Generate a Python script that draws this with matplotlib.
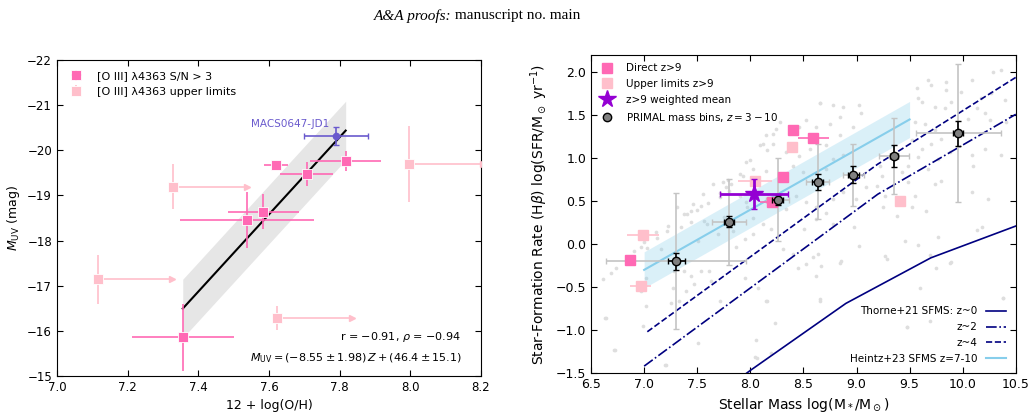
import matplotlib.pyplot as plt
import numpy as np

# ---------------- left panel: M_UV vs 12+log(O/H) ----------------
det_oh = [7.62, 7.707, 7.817, 7.584, 7.538, 7.356]
det_oh_err = [0.035, 0.075, 0.10, 0.10, 0.19, 0.145]
det_muv = [-19.68, -19.47, -19.77, -18.64, -18.45, -15.86]
det_muv_err = [0.0, 0.26, 0.22, 0.39, 0.62, 0.74]

lim_oh = [7.329, 7.115, 7.624, 7.995]
lim_muv = [-19.19, -17.14, -16.28, -19.69]
lim_muv_err = [0.5, 0.55, 0.27, 0.84]
lim_arrow = 0.21

jd1_oh, jd1_oh_err = 7.79, 0.09
jd1_muv, jd1_muv_err = -20.31, 0.2

fit_slope, fit_icpt = -8.55, 46.4
fit_band = 0.65

# ---------------- right panel: SFR vs stellar mass ----------------
dir_m = [8.398, 8.592, 8.31, 8.20, 6.867]
dir_m_err = [0.0, 0.145, 0.0, 0.11, 0.0]
dir_sfr = [1.324, 1.238, 0.777, 0.484, -0.19]

ul_m = [8.389, 8.044, 9.408, 6.99, 6.966]
ul_m_err = [0.0, 0.16, 0.0, 0.15, 0.10]
ul_sfr = [1.129, 0.738, 0.504, 0.10, -0.482]

mean_m, mean_m_err = 8.038, 0.32
mean_sfr, mean_sfr_err = 0.582, 0.17

bin_m = [7.303, 7.799, 8.257, 8.635, 8.971, 9.352, 9.957]
bin_sfr = [-0.20, 0.261, 0.516, 0.727, 0.808, 1.022, 1.29]
bin_m_err = [0.08, 0.05, 0.05, 0.05, 0.05, 0.04, 0.05]
bin_sfr_err = [0.10, 0.06, 0.06, 0.094, 0.10, 0.13, 0.145]
bin_m_spread = [0.66, 0.16, 0.11, 0.11, 0.10, 0.14, 0.40]
bin_sfr_spread = [0.79, 0.50, 0.48, 0.44, 0.36, 0.44, 0.80]

heintz_m = [7.0, 9.5]
heintz_sfr = [-0.30, 1.45]
heintz_band = 0.21

thorne0_m = [7.5, 8.0, 8.9, 9.7, 10.5]
thorne0_sfr = [-1.93, -1.47, -0.69, -0.16, 0.21]
thorne2_m = [7.0, 9.2, 10.5]
thorne2_sfr = [-1.42, 0.58, 1.51]
thorne4_m = [7.03, 9.2, 10.5]
thorne4_sfr = [-1.02, 0.93, 1.94]

# PRIMAL individual galaxies
cloud_m = [
    7.74, 7.79, 7.77, 7.82, 7.71, 7.80, 7.54, 7.50, 7.44, 7.38, 7.60,
    8.652, 8.777, 8.871, 9.028, 9.044, 8.84, 8.746, 8.62, 8.526, 8.463, 8.244,
    8.15, 8.087, 8.212, 8.338, 8.463, 8.558, 8.714, 8.84, 8.965, 7.961, 8.024,
    8.15, 7.93, 8.401, 8.495, 8.714, 8.777, 8.871, 7.899, 7.961, 8.432, 8.526,
    8.62, 8.777, 8.871, 8.997, 9.09, 8.338, 8.714,
    10.365, 10.287, 10.083, 9.847, 9.706, 9.675, 9.565, 9.847, 9.581, 9.612,
    9.738, 9.832, 9.894, 9.988, 10.177, 10.271, 10.396, 10.13, 10.208, 10.255,
    10.412, 10.051, 9.644, 9.55, 9.738, 9.8, 9.706, 9.612, 9.518, 9.581, 9.487,
    9.675, 9.769, 9.879, 10.083, 10.208, 10.365, 10.098, 9.8, 9.738, 9.487,
    9.424, 9.549, 9.659, 10.24, 10.083, 9.22, 9.236, 9.189, 9.267, 9.251, 9.518,
    7.222, 7.112, 6.971, 7.002, 6.908, 6.735, 6.688, 6.61, 7.018, 7.284, 7.378,
    7.441, 7.535, 7.614, 7.63, 7.473, 7.394, 7.331, 7.253, 7.269, 6.971, 7.018,
    6.986, 6.641, 6.72, 7.206, 7.504, 7.347, 7.441, 7.567, 7.692, 7.504, 7.755,
    7.159,
    8.118, 8.197, 8.024, 7.946, 7.867, 8.307, 8.401, 8.448, 8.526, 8.589, 8.636,
    8.667, 8.62, 8.51, 8.62, 8.777, 8.856, 8.981, 9.028, 7.946, 8.071, 8.15,
    8.652, 8.228, 8.056, 8.197, 8.04,
    9.377, 10.13, 10.183, 9.769, 9.455, 9.581, 9.267, 9.283, 9.691, 9.753,
    9.894, 9.596, 10.381, 9.691, 9.471,
    6.632, 6.726, 7.196, 8.06, 7.714, 8.154, 8.655, 8.843, 9.471, 10.38, 9.879,
    7.307, 7.40, 7.463, 7.557, 7.651, 7.714, 7.902, 7.996, 8.122, 8.154, 8.216,
    8.279, 8.655, 7.839, 7.212, 7.118, 7.965, 8.028, 7.589, 7.024,
]
cloud_sfr = [
    0.72, 0.75, 0.66, 0.70, 0.60, 0.62, 0.44, 0.40, 0.38, 0.35, 0.48,
    1.637, 1.617, 1.598, 1.617, 1.52, 1.48, 1.40, 1.36, 1.44, 1.363, 1.344,
    1.266, 1.148, 1.168, 1.07, 1.03, 1.11, 1.148, 1.266, 1.363, 0.953, 0.875,
    0.855, 0.797, 0.914, 0.836, 0.875, 0.992, 1.031, 0.562, 0.484, 0.562, 0.484,
    0.426, 0.523, 0.602, 0.523, 0.66, 0.406, 0.367,
    2.027, 2.008, 1.91, 1.89, 1.851, 1.91, 1.812, 1.793, 1.695, 1.656,
    1.598, 1.578, 1.656, 1.773, 1.695, 1.754, 1.676, 1.578, 1.52, 1.441,
    1.422, 1.461, 1.402, 1.422, 1.324, 1.227, 1.168, 1.109, 1.207, 1.012, 0.914,
    0.875, 0.992, 1.07, 1.031, 1.109, 1.031, 0.914, 0.738, 0.699, 0.719,
    0.836, 0.562, 0.387, 0.523, 0.602, 0.914, 0.797, 0.68, 0.562, 0.426, 0.426,
    0.215, 0.137, -0.039, 0.02, -0.078, -0.273, -0.332, -0.41, -0.39, -0.312, -0.312,
    -0.371, -0.312, -0.312, -0.43, -0.469, -0.547, -0.664, -0.684, -0.508, -0.547, -0.723,
    -0.957, -0.859, -1.23, -1.406, -1.152, 0.195, 0.254, 0.27, 0.117, 0.04, 0.313,
    -0.058,
    0.235, 0.176, 0.118, 0.059, -0.039, -0.058, -0.117, -0.273, -0.234, -0.156, -0.117,
    -0.254, -0.371, 0.176, 0.293, 0.235, -0.195, 0.196, -0.019, -0.39, -0.508, -0.664,
    -0.644, -0.918, -1.113, -1.269, -1.308,
    0.321, 0.164, 0.196, 0.086, 0.032, -0.007, -0.136, -0.175, -0.124, -0.281,
    -0.214, -0.515, -0.625, -0.89, -0.968,
    -0.863, -1.234, -1.41, -1.324, -0.668, -0.668, -0.668, -0.219, -0.961, -0.629, -0.219,
    0.426, 0.348, 0.465, 0.582, 0.70, 0.543, 0.817, 0.973, 1.168, 1.09, 1.285,
    1.422, 1.637, 0.152, 0.152, 0.074, 0.426, 0.308, 0.231, -0.043,
]

HOT = '#ff69b4'
LIGHT = '#ffbfcb'

fig = plt.figure(figsize=(10.36, 4.17), dpi=100)
fig.text(0.4355, 0.962, 'A&A proofs:', ha='right', va='center', style='italic',
         family='Liberation Serif', fontsize=11)
fig.text(0.4355, 0.962, ' manuscript no. main', ha='left', va='center',
         family='Liberation Serif', fontsize=11)

# ---- left ----
ax1 = fig.add_axes([0.055, 0.0983, 0.4093, 0.758])
zz = np.array([min(det_oh), max(det_oh)])
ax1.fill_between(zz, fit_slope * zz + fit_icpt - fit_band, fit_slope * zz + fit_icpt + fit_band,
                 color='#e6e6e6', lw=0, zorder=1)
ax1.plot(zz, fit_slope * zz + fit_icpt, color='k', lw=1.5, zorder=2)

ax1.errorbar(lim_oh, lim_muv, yerr=lim_muv_err, fmt='s', color=LIGHT, ms=6.5, mec='white',
             mew=0.6, elinewidth=1.2, zorder=3, label='[O III] λ4363 upper limits')
for x, y in zip(lim_oh, lim_muv):
    ax1.plot([x, x + lim_arrow], [y, y], color=LIGHT, lw=1.2, zorder=3)
ax1.plot(np.array(lim_oh) + lim_arrow, lim_muv, '>', color=LIGHT, ms=4, ls='none', zorder=3)

ax1.errorbar(det_oh, det_muv, xerr=det_oh_err, yerr=det_muv_err, fmt='s', color=HOT, ms=6.5,
             mec='white', mew=0.6, elinewidth=1.2, zorder=4, label='[O III] λ4363 S/N > 3')

ax1.errorbar(jd1_oh, jd1_muv, xerr=jd1_oh_err, yerr=jd1_muv_err, fmt='o', color='slateblue',
             ms=4.5, elinewidth=1.2, capsize=2, zorder=5)
ax1.text(jd1_oh - 0.13, jd1_muv - 0.27, 'MACS0647-JD1', color='slateblue', fontsize=7.5,
         ha='center', va='center')

ax1.text(0.954, 0.124, r'r = $-$0.91, $\rho$ = $-$0.94', transform=ax1.transAxes,
         ha='right', va='center', fontsize=8)
ax1.text(0.954, 0.057, r'$M_{\rm UV} = (-8.55 \pm 1.98)\,Z + (46.4 \pm 15.1)$',
         transform=ax1.transAxes, ha='right', va='center', fontsize=8)

h, l = ax1.get_legend_handles_labels()
ax1.legend(h[::-1], l[::-1], loc='upper left', frameon=False, fontsize=8, handletextpad=1.1,
           borderaxespad=0.6, labelspacing=0.5, handlelength=1.5)

ax1.set_xlim(7.0, 8.2)
ax1.set_ylim(-15, -22)
ax1.set_xticks(np.arange(7.0, 8.21, 0.2))
ax1.set_xlabel('12 + log(O/H)', fontsize=9)
ax1.set_ylabel(r'$M_{\rm UV}$ (mag)', fontsize=9)
ax1.tick_params(direction='in', top=True, right=True, labelsize=8.5, length=4)

# ---- right ----
ax2 = fig.add_axes([0.5705, 0.1055, 0.410, 0.7626])
ax2.scatter(cloud_m, cloud_sfr, s=7, color='#dedede', lw=0, zorder=1)

hm = np.array(heintz_m)
hs = np.array(heintz_sfr)
ax2.fill_between(hm, hs - heintz_band, hs + heintz_band, color='skyblue', alpha=0.3, lw=0, zorder=2)
ax2.plot(hm, hs, color='skyblue', lw=1.5, zorder=3, label='Heintz+23 SFMS z=7-10')

ax2.plot(thorne0_m, thorne0_sfr, color='navy', lw=1.2, zorder=3, label='Thorne+21 SFMS: z~0')
ax2.plot(thorne2_m, thorne2_sfr, color='navy', lw=1.2, ls='-.', zorder=3, label='z~2')
ax2.plot(thorne4_m, thorne4_sfr, color='navy', lw=1.2, ls='--', zorder=3, label='z~4')

ax2.errorbar(bin_m, bin_sfr, xerr=bin_m_spread, yerr=bin_sfr_spread, fmt='none', ecolor='#c4c4c4',
             elinewidth=1.2, capsize=2, zorder=4)
hb = ax2.errorbar(bin_m, bin_sfr, xerr=bin_m_err, yerr=bin_sfr_err, fmt='o', color='k', mfc='gray',
                  mec='k', ms=6, elinewidth=1.2, capsize=2, zorder=6)

hu = ax2.errorbar(ul_m, ul_sfr, xerr=ul_m_err, fmt='s', color=LIGHT, ms=7, elinewidth=1.2,
                  lw=0, zorder=5)
hd = ax2.errorbar(dir_m, dir_sfr, xerr=dir_m_err, fmt='s', color=HOT, ms=7, elinewidth=1.2,
                  zorder=5)
hs_ = ax2.errorbar(mean_m, mean_sfr, xerr=mean_m_err, yerr=mean_sfr_err, fmt='*', color='darkviolet',
                   ms=13, elinewidth=2, capsize=2, zorder=7)

leg1 = ax2.legend([hd[0], hu[0], hs_[0], hb[0]],
                  ['Direct z>9', 'Upper limits z>9', 'z>9 weighted mean', r'PRIMAL mass bins, $z=3-10$'],
                  loc='upper left', frameon=False, fontsize=7.5, labelspacing=0.55,
                  handletextpad=1.2, borderaxespad=0.4, handlelength=1.4)
ax2.add_artist(leg1)
lh, ll = ax2.get_legend_handles_labels()
order = [1, 2, 3, 0]
ax2.legend([lh[i] for i in order], [ll[i] for i in order], loc='lower right', frameon=False,
           fontsize=7.5, markerfirst=False, labelspacing=0.55, borderaxespad=0.5)

ax2.set_xlim(6.5, 10.5)
ax2.set_ylim(-1.5, 2.2)
ax2.set_xticks(np.arange(6.5, 10.51, 0.5))
ax2.set_yticks(np.arange(-1.5, 2.01, 0.5))
ax2.set_xlabel(r'Stellar Mass log(M$_*$/M$_\odot$)', fontsize=10)
ax2.set_ylabel(r'Star-Formation Rate (H$\beta$) log(SFR/M$_\odot$ yr$^{-1}$)', fontsize=10)
ax2.tick_params(direction='in', top=True, right=True, labelsize=9, length=4)

fig.savefig('out.png', dpi=100)
